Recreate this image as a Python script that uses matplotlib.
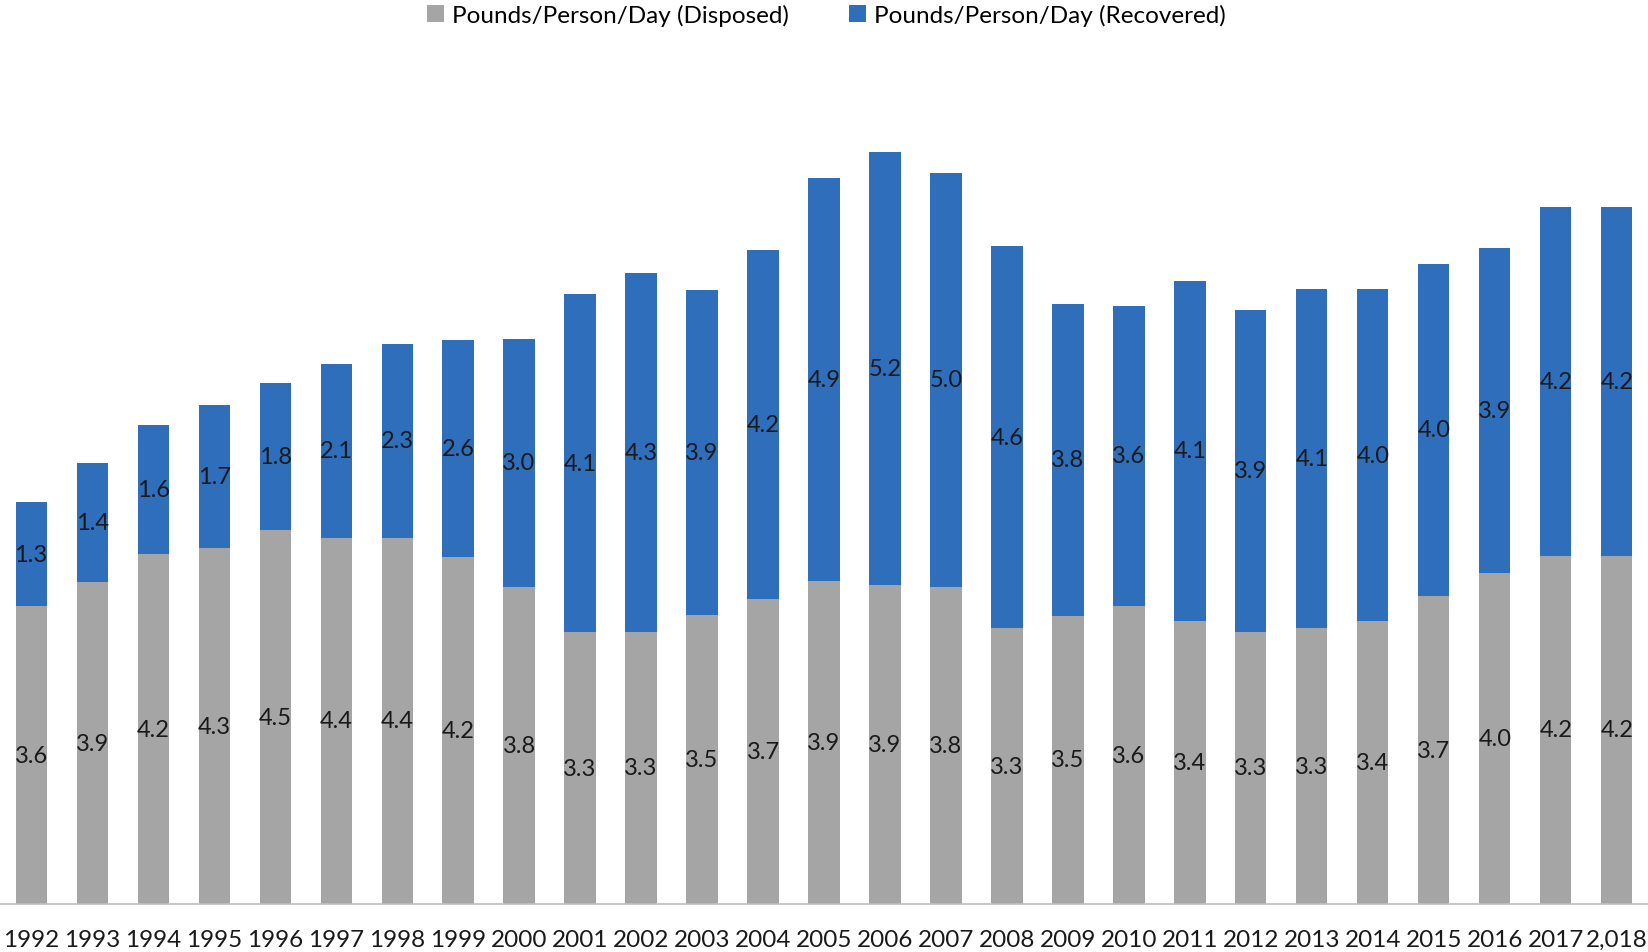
import matplotlib
matplotlib.use("Agg")
import matplotlib.pyplot as plt
import numpy as np

years = ["1992", "1993", "1994", "1995", "1996", "1997", "1998", "1999", "2000",
         "2001", "2002", "2003", "2004", "2005", "2006", "2007", "2008", "2009",
         "2010", "2011", "2012", "2013", "2014", "2015", "2016", "2017", "2,018"]
disposed = [3.61, 3.90, 4.24, 4.31, 4.53, 4.44, 4.44, 4.20, 3.84, 3.29, 3.30, 3.50,
            3.69, 3.91, 3.87, 3.84, 3.34, 3.49, 3.61, 3.43, 3.30, 3.34, 3.43, 3.73,
            4.01, 4.22, 4.22]
recovered = [1.26, 1.44, 1.56, 1.74, 1.78, 2.10, 2.34, 2.63, 3.01, 4.10, 4.34, 3.94,
             4.23, 4.89, 5.24, 5.02, 4.63, 3.78, 3.64, 4.12, 3.90, 4.11, 4.02, 4.03,
             3.94, 4.23, 4.23]

GRAY = "#A5A5A5"
BLUE = "#2F6EBA"
FONT = "Lato"

fig = plt.figure(figsize=(16.48, 9.53), dpi=100)
ax = fig.add_axes([0.0, 0.0504, 1.0, 0.866])

x = np.arange(len(years))
w = 0.51
b1 = ax.bar(x, disposed, width=w, color=GRAY, label="Pounds/Person/Day (Disposed)")
b2 = ax.bar(x, recovered, width=w, bottom=disposed, color=BLUE,
            label="Pounds/Person/Day (Recovered)")

for xi, d, r in zip(x, disposed, recovered):
    ax.text(xi, d / 2, f"{d:.1f}", ha="center", va="center", fontsize=17,
            family=FONT, color="#1a1a1a")
    ax.text(xi, d + r / 2, f"{r:.1f}", ha="center", va="center", fontsize=17,
            family=FONT, color="#1a1a1a")

ax.set_xlim(-0.51, len(years) - 1 + 0.51)
ax.set_ylim(0, 10)
ax.set_xticks(x)
ax.set_xticklabels(years, fontsize=17.5, family=FONT, color="#1a1a1a")
ax.tick_params(axis="x", length=0, pad=18)
ax.set_yticks([])
for s in ["top", "right", "left"]:
    ax.spines[s].set_visible(False)
ax.spines["bottom"].set_color("#BFBFBF")
ax.spines["bottom"].set_linewidth(1.2)

fig.legend(handles=[b1, b2], loc="center", bbox_to_anchor=(0.5015, 0.983), ncol=2,
           frameon=False, prop={"family": FONT, "size": 17.5},
           handlelength=0.7, handleheight=0.7, handletextpad=0.35, columnspacing=2.45)

fig.savefig("out.png", dpi=100, facecolor="white")
